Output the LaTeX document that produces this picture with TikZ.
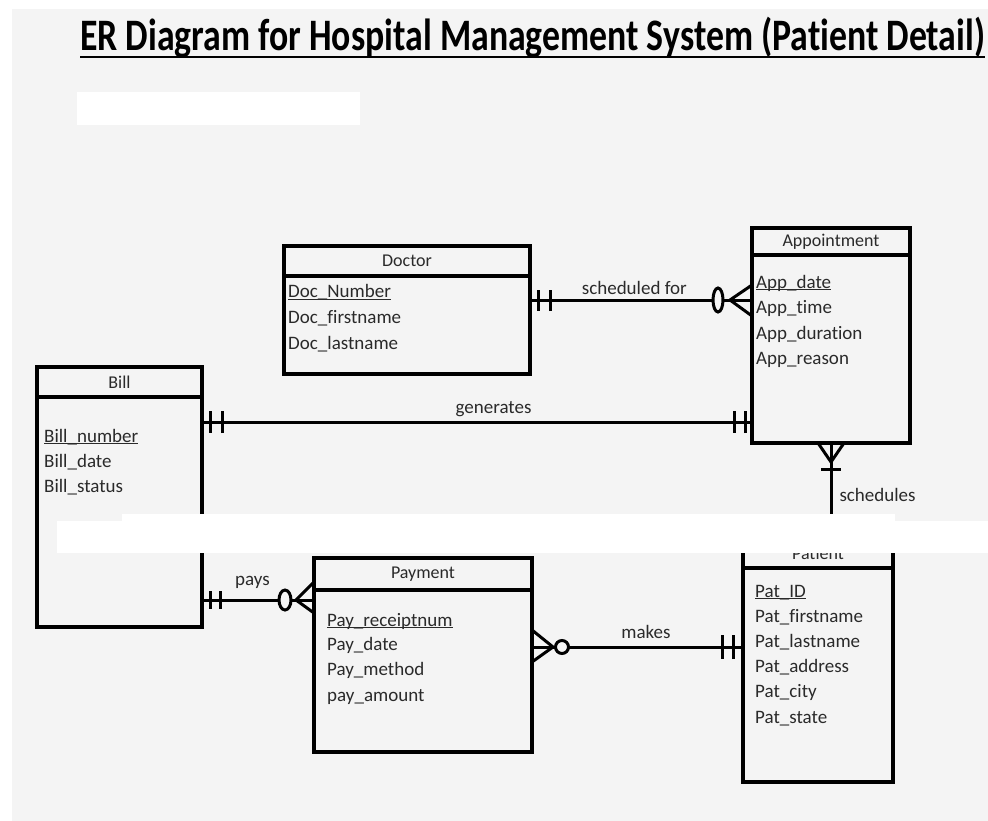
\documentclass[tikz,border=0pt]{standalone}
\usepackage{fontspec}
\setmainfont{Carlito}[Ligatures=NoCommon]
\usepackage{graphicx}
\usepackage{tikz}
\usetikzlibrary{positioning}

\definecolor{paper}{HTML}{F4F4F4}
\definecolor{ink}{HTML}{2A2A2A}

\tikzset{
    entity/.style={draw, rectangle, line width=3.2pt, inner sep=0pt, outer sep=0pt, font=\fontsize{18}{18}\selectfont, text=ink},
    attr/.style={anchor=base west, inner sep=0pt, font=\fontsize{19}{19}\selectfont, text=ink},
    lbl/.style={inner sep=0pt, font=\fontsize{19}{19}\selectfont, text=ink},
    rel/.style={line width=3pt}
}
\newcommand{\pkey}[1]{\underline{\smash{#1}}}

\begin{document}
\begin{tikzpicture}[x=1pt, y=-1pt]
        \useasboundingbox (0,0) rectangle (988,821);
        \fill[paper] (12,9) rectangle (988,821);

        \node[anchor=base west, inner sep=0pt, font=\fontsize{45}{45}\selectfont\bfseries] (title) at (80,51)
            {\scalebox{0.795}[1]{ER Diagram for Hospital Management System (Patient Detail)}};
        \draw[line width=2.8pt] ([yshift=-6pt]title.base west) -- ([yshift=-6pt]title.base east);

        \node[entity, minimum width=246, minimum height=30, anchor=north west] (DocT) at (284,246) {Doctor};
        \node[entity, minimum width=246, minimum height=98, below=0pt of DocT] (Doc) {};
        \node[attr] (doc1) at (288,298) {\pkey{Doc\_Number}};
        \node[attr] (doc2) at (288,323) {Doc\_firstname};
        \node[attr] (doc3) at (288,349) {Doc\_lastname};

        \node[entity, minimum width=158, minimum height=27, anchor=north west] (AppT) at (752,228) {Appointment};
        \node[entity, minimum width=158, minimum height=188, below=0pt of AppT] (App) {};
        \node[attr] (app1) at (756,288) {\pkey{App\_date}};
        \node[attr] (app2) at (756,313) {App\_time};
        \node[attr] (app3) at (756,339) {App\_duration};
        \node[attr] (app4) at (756,364) {App\_reason};

        \node[entity, minimum width=165, minimum height=30, anchor=north west] (BillT) at (37,367) {Bill};
        \node[entity, minimum width=165, minimum height=230, below=0pt of BillT] (Bill) {};
        \node[attr] (bill1) at (44,442) {\pkey{Bill\_number}};
        \node[attr] (bill2) at (44,467) {Bill\_date};
        \node[attr] (bill3) at (44,492) {Bill\_status};

        \node[entity, minimum width=218, minimum height=32, anchor=north west] (PayT) at (314,558) {Payment};
        \node[entity, minimum width=218, minimum height=162, below=0pt of PayT] (Pay) {};
        \node[attr] (pay1) at (327,626) {\pkey{Pay\_receiptnum}};
        \node[attr] (pay2) at (327,650) {Pay\_date};
        \node[attr] (pay3) at (327,675) {Pay\_method};
        \node[attr] (pay4) at (327,701) {pay\_amount};

        \node[entity, minimum width=150, minimum height=30, anchor=north west] (PatT) at (743,538) {Patient};
        \node[entity, minimum width=150, minimum height=214, below=0pt of PatT] (Pat) {};
        \node[attr] (pat1) at (755,597) {\pkey{Pat\_ID}};
        \node[attr] (pat2) at (755,622) {Pat\_firstname};
        \node[attr] (pat3) at (755,647) {Pat\_lastname};
        \node[attr] (pat4) at (755,672) {Pat\_address};
        \node[attr] (pat5) at (755,697) {Pat\_city};
        \node[attr] (pat6) at (755,723) {Pat\_state};

        % scheduled for
        \draw[rel] (Doc.east |- 0,300) to node[lbl, above=4pt, pos=0.47] {scheduled for} (App.west |- 0,300);
        \draw[rel] (Doc.east |- 0,300) ++(8,-10) -- ++(0,21) ++(12,0) -- ++(0,-21);
        \draw[rel] (App.west |- 0,300) ++(0,-15) -- ++(-22,15) -- ++(22,16);
        \draw[rel, fill=paper] (App.west |- 0,300) ++(-34,0) ellipse (5 and 12);

        % generates
        \draw[rel] (Bill.east |- 0,422) to node[lbl, above=4pt, pos=0.53] {generates} (App.west |- 0,422);
        \draw[rel] (Bill.east |- 0,422) ++(8,-11) -- ++(0,22) ++(12,0) -- ++(0,-22);
        \draw[rel] (App.west |- 0,422) ++(-18,-11) -- ++(0,22) ++(11,0) -- ++(0,-22);

        % schedules
        \draw[rel] (App.south) to node[lbl, right=7pt, pos=0.55] {schedules} (PatT.north -| App.south);
        \draw[rel] (App.south) ++(-13,0) -- ++(13,19) -- ++(13,-19);
        \draw[rel] (App.south) ++(-10,26) -- ++(20,0);

        % pays
        \draw[rel] (Bill.east |- 0,600) to node[lbl, above=10pt, pos=0.45] {pays} (Pay.west |- 0,600);
        \draw[rel] (Bill.east |- 0,600) ++(8,-9) -- ++(0,18) ++(10,0) -- ++(0,-18);
        \draw[rel] (Pay.west |- 0,600) ++(0,-18) -- ++(-18,18) -- ++(18,13);
        \draw[rel, fill=paper] (Pay.west |- 0,600) ++(-29,0) ellipse (6 and 10);

        % makes
        \draw[rel] (Pay.east |- 0,647) to node[lbl, above=7pt, pos=0.54] {makes} (Pat.west |- 0,647);
        \draw[rel] (Pay.east |- 0,647) ++(0,-17) -- ++(21,17) -- ++(-21,15);
        \draw[rel, fill=paper] (Pay.east |- 0,647) ++(30,0) circle (6.5);
        \draw[rel] (Pat.west |- 0,647) ++(-21,-12) -- ++(0,24) ++(11,0) -- ++(0,-24);

        % blanked out parts
        \fill[white] (77,92) rectangle (360,125);
        \fill[white] (57,521) rectangle (988,553);
        \fill[white] (122,514) rectangle (895,553);
\end{tikzpicture}
\end{document}
